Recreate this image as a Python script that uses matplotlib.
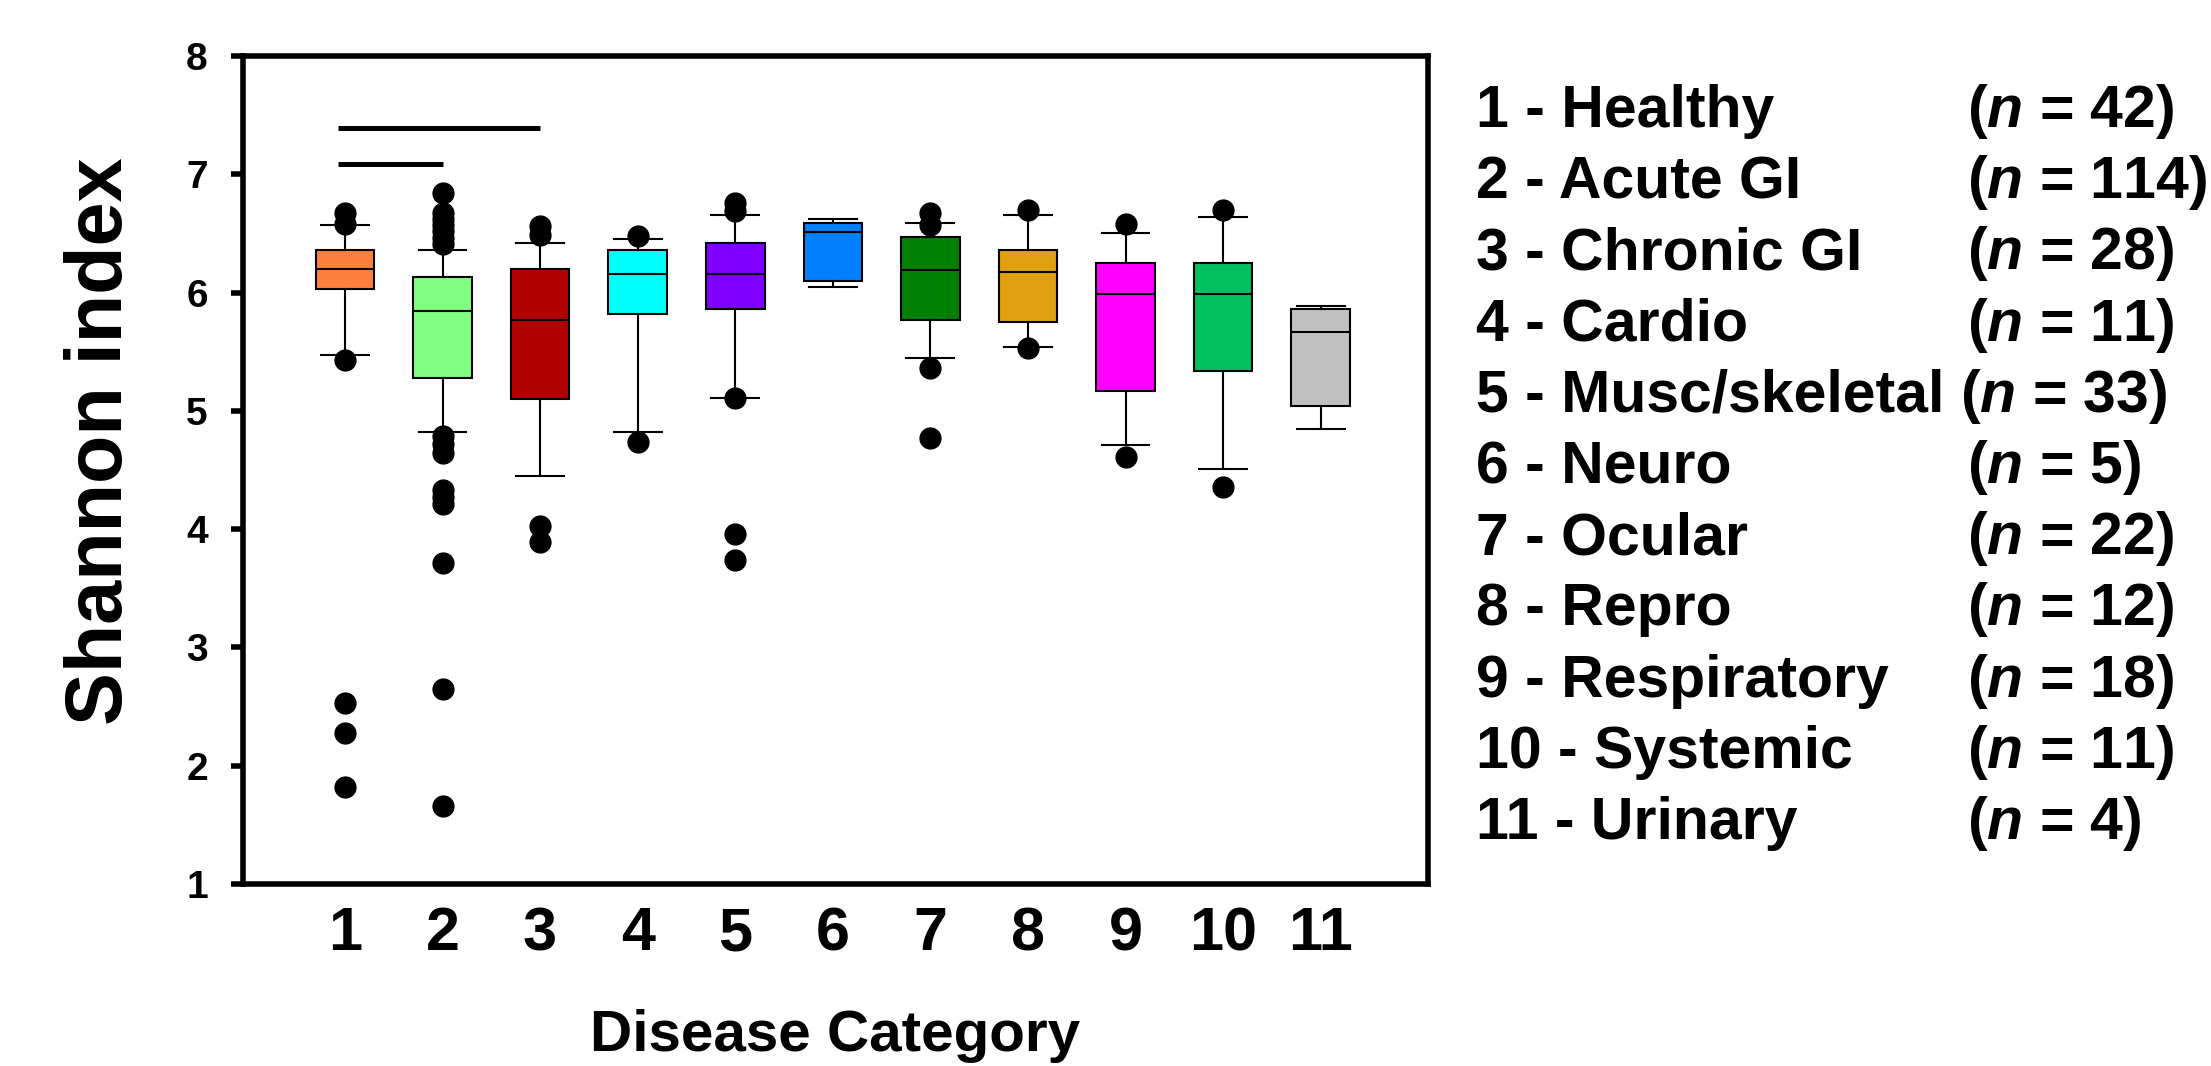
import matplotlib
matplotlib.use('Agg')
import matplotlib.pyplot as plt

plt.rcParams['font.family'] = ['Liberation Sans', 'DejaVu Sans']
plt.rcParams['font.weight'] = 'bold'
plt.rcParams['mathtext.fontset'] = 'custom'
plt.rcParams['mathtext.it'] = 'Liberation Sans:italic:bold'
plt.rcParams['mathtext.rm'] = 'Liberation Sans:bold'

# data
categories = ['Healthy', 'Acute GI', 'Chronic GI', 'Cardio', 'Musc/skeletal', 'Neuro',
              'Ocular', 'Repro', 'Respiratory', 'Systemic', 'Urinary']
n_counts = [42, 114, 28, 11, 33, 5, 22, 12, 18, 11, 4]
colors = ['#FF7F3F', '#80FF80', '#B00000', '#00FFFF', '#8000FF', '#0080FF',
          '#008000', '#E0A010', '#FF00FF', '#00C060', '#C0C0C0']

q1 = [6.03, 5.28, 5.10, 5.82, 5.86, 6.10, 5.77, 5.75, 5.17, 5.34, 5.04]
med = [6.20, 5.84, 5.77, 6.16, 6.16, 6.51, 6.19, 6.17, 5.99, 5.99, 5.67]
q3 = [6.36, 6.13, 6.20, 6.36, 6.42, 6.59, 6.47, 6.36, 6.25, 6.25, 5.86]
whis_lo = [5.47, 4.82, 4.45, 4.82, 5.11, 6.05, 5.45, 5.54, 4.71, 4.51, 4.85]
whis_hi = [6.57, 6.36, 6.42, 6.45, 6.66, 6.62, 6.59, 6.66, 6.50, 6.64, 5.89]
outliers = [
    [6.67, 6.58, 5.43, 2.53, 2.28, 1.82],
    [6.84, 6.67, 6.62, 6.57, 6.52, 6.46, 6.41, 4.79, 4.72, 4.64, 4.33, 4.27, 4.21, 3.71, 2.65, 1.66],
    [6.56, 6.49, 4.03, 3.89],
    [6.48, 4.74],
    [6.76, 6.69, 5.11, 3.96, 3.74],
    [],
    [6.67, 6.57, 5.36, 4.77],
    [6.70, 5.53],
    [6.58, 4.61],
    [6.70, 4.36],
    [],
]

# significance bars: (from group, to group, height)
sig_bars = [(1, 3, 7.39), (1, 2, 7.09)]

positions = list(range(1, len(categories) + 1))

stats = []
for i in range(len(categories)):
    stats.append(dict(med=med[i], q1=q1[i], q3=q3[i], whislo=whis_lo[i],
                      whishi=whis_hi[i], fliers=outliers[i]))

fig = plt.figure(figsize=(22.11, 10.66), dpi=100)
W, H = 2211, 1066
ax = fig.add_axes([242.5 / W, 1 - 884 / H, (1428 - 242.5) / W, (884 - 56) / H])

bp = ax.bxp(stats, positions=positions, widths=0.6, capwidths=0.49, patch_artist=True,
            boxprops=dict(linewidth=1.5, edgecolor='black'),
            medianprops=dict(color='black', linewidth=1.5),
            whiskerprops=dict(color='black', linewidth=1.5),
            capprops=dict(color='black', linewidth=1.5),
            flierprops=dict(marker='o', markerfacecolor='black', markeredgecolor='black',
                            markersize=15, linestyle='none'))
for patch, c in zip(bp['boxes'], colors):
    patch.set_facecolor(c)

for a, b, y in sig_bars:
    ax.plot([a - 0.07, b], [y, y], color='black', lw=3.6, solid_capstyle='butt')

ax.set_xlim(-0.05, 12.1)
ax.set_ylim(1, 8)
ax.set_yticks(range(1, 9))
ax.set_xticks(positions)
ax.set_xticklabels([str(p) for p in positions])

for s in ax.spines.values():
    s.set_linewidth(4)
ax.tick_params(axis='y', length=9, width=4, pad=16, labelsize=28)
ax.tick_params(axis='x', length=0, pad=16, labelsize=44)

ax.set_ylabel('Shannon index', fontsize=57, fontweight='bold')
ax.yaxis.label.set_va('center')
ax.yaxis.set_label_coords(-0.119, 0.535)
ax.set_xlabel('Disease Category', fontsize=42, fontweight='bold')
ax.xaxis.label.set_va('center')
ax.xaxis.set_label_coords(0.5, -0.184)

# category key on the right
n_x = [1967] * len(categories)
n_x[4] = 1960
for i, (cat, n) in enumerate(zip(categories, n_counts)):
    y = 1 - (127 + i * 71.2) / H
    fig.text(1476 / W, y, f'{i + 1} - {cat}', fontsize=42.5, fontweight='bold', va='baseline')
    fig.text(n_x[i] / W, y, f'($n$ = {n})', fontsize=42.5, fontweight='bold', va='baseline')

fig.savefig('out.png', dpi=100)
